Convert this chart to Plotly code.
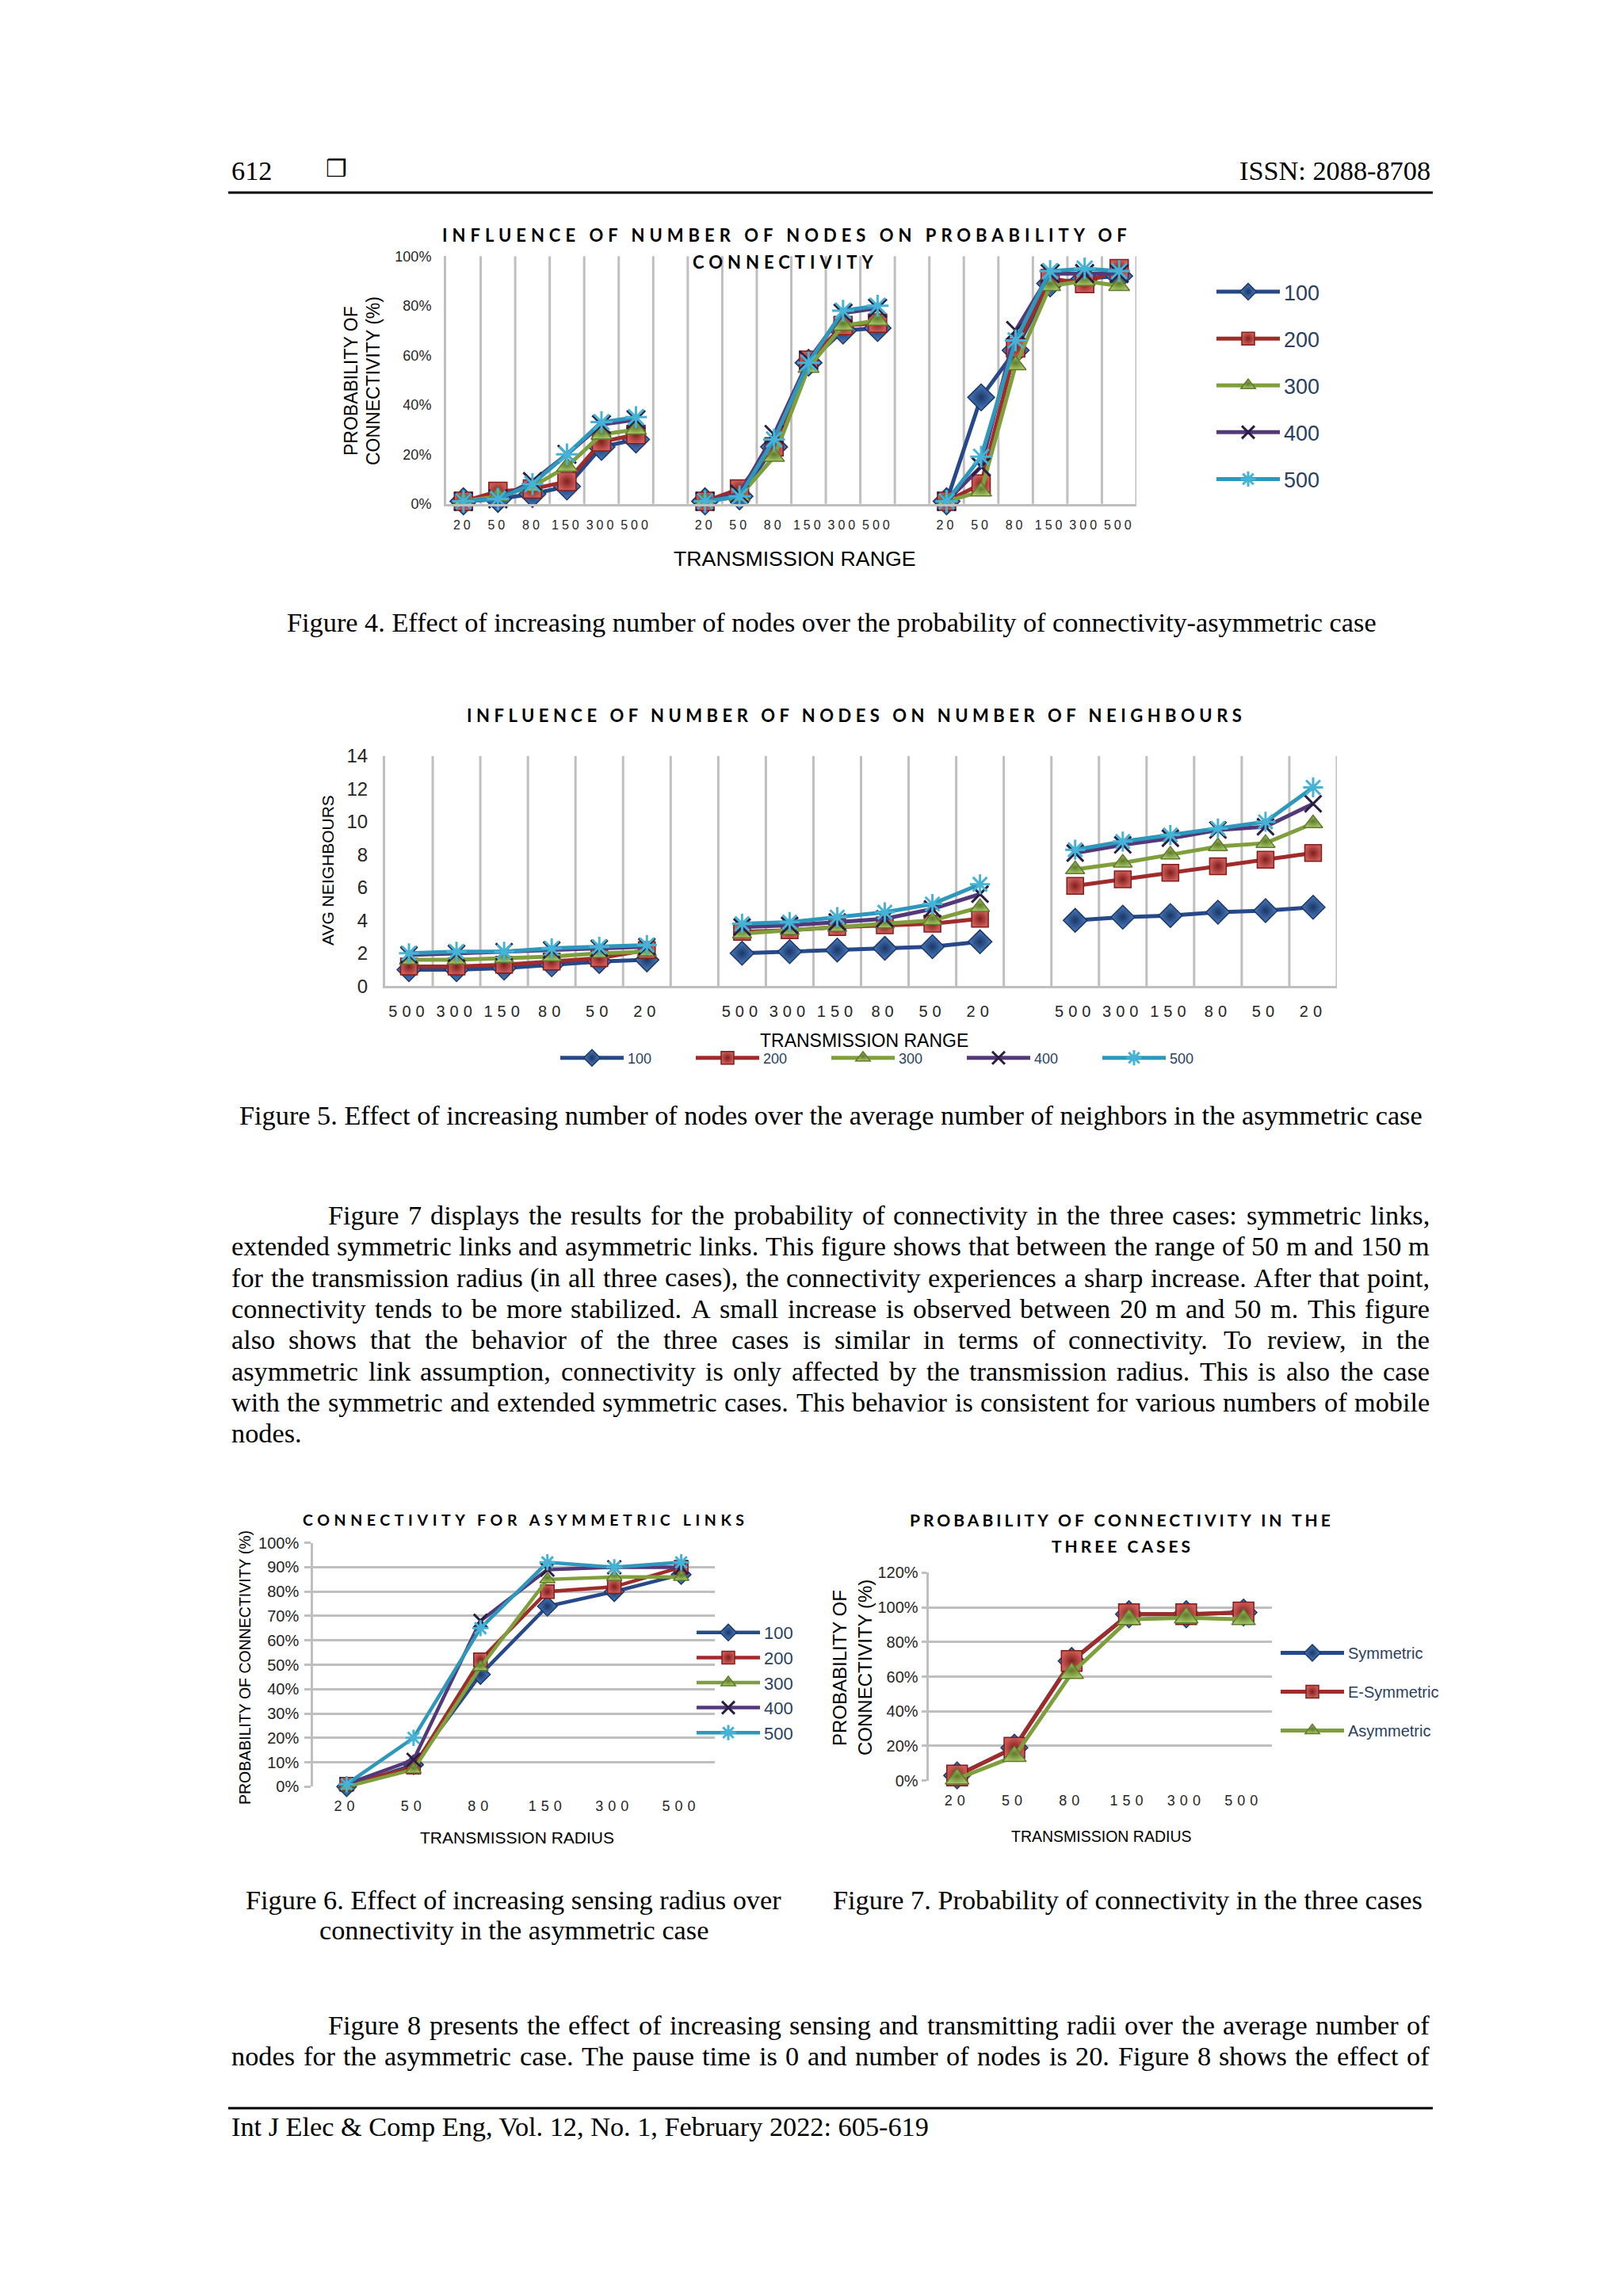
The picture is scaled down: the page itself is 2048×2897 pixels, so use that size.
import plotly.graph_objects as go

# ---------------------------------------------------------------- data
SERIES = ["100", "200", "300", "400", "500"]

F4_RANGES = ["20", "50", "80", "150", "300", "500"]
F4_100 = [0.01, 0.02, 0.04, 0.07, 0.23, 0.26, 0.01, 0.03, 0.23, 0.57, 0.70, 0.71, 0.01, 0.43, 0.62, 0.89, 0.91, 0.92]
F4_200 = [0.01, 0.05, 0.06, 0.09, 0.25, 0.28, 0.01, 0.06, 0.23, 0.58, 0.72, 0.73, 0.01, 0.08, 0.63, 0.91, 0.89, 0.95]
F4_300 = [0.01, 0.03, 0.07, 0.15, 0.28, 0.30, 0.01, 0.03, 0.19, 0.55, 0.72, 0.74, 0.01, 0.05, 0.56, 0.88, 0.90, 0.88]
F4_400 = [0.01, 0.02, 0.09, 0.20, 0.32, 0.34, 0.01, 0.04, 0.28, 0.58, 0.77, 0.79, 0.01, 0.15, 0.70, 0.93, 0.93, 0.93]
F4_500 = [0.01, 0.02, 0.08, 0.20, 0.33, 0.35, 0.01, 0.03, 0.26, 0.57, 0.78, 0.80, 0.01, 0.19, 0.66, 0.94, 0.95, 0.94]

F5_RANGES = ["500", "300", "150", "80", "50", "20"]
F5_100 = [1.0, 1.0, 1.1, 1.3, 1.5, 1.6, 2.0, 2.1, 2.2, 2.3, 2.4, 2.7, 4.0, 4.2, 4.3, 4.5, 4.6, 4.8]
F5_200 = [1.2, 1.2, 1.3, 1.5, 1.7, 2.2, 3.3, 3.4, 3.6, 3.7, 3.8, 4.1, 6.1, 6.5, 6.9, 7.3, 7.7, 8.1]
F5_300 = [1.6, 1.6, 1.7, 1.8, 2.0, 2.1, 3.2, 3.4, 3.6, 3.8, 4.0, 4.8, 7.1, 7.5, 8.0, 8.5, 8.7, 9.9]
F5_400 = [1.9, 2.0, 2.1, 2.2, 2.3, 2.4, 3.6, 3.7, 3.9, 4.1, 4.7, 5.6, 8.1, 8.6, 9.0, 9.5, 9.7, 11.1]
F5_500 = [2.0, 2.1, 2.1, 2.3, 2.4, 2.5, 3.8, 3.9, 4.2, 4.5, 5.0, 6.2, 8.3, 8.8, 9.2, 9.6, 10.0, 12.1]

F6_RADII = ["20", "50", "80", "150", "300", "500"]
F6_100 = [0.00, 0.09, 0.46, 0.74, 0.80, 0.87]
F6_200 = [0.01, 0.08, 0.52, 0.80, 0.82, 0.90]
F6_300 = [0.00, 0.07, 0.49, 0.85, 0.86, 0.86]
F6_400 = [0.01, 0.11, 0.68, 0.89, 0.90, 0.90]
F6_500 = [0.01, 0.20, 0.65, 0.92, 0.90, 0.92]

F7_RADII = ["20", "50", "80", "150", "300", "500"]
F7_CASES = ["Symmetric", "E-Symmetric", "Asymmetric"]
F7_SYM = [0.03, 0.19, 0.69, 0.96, 0.96, 0.97]
F7_ESYM = [0.03, 0.19, 0.69, 0.96, 0.96, 0.97]
F7_ASYM = [0.01, 0.14, 0.62, 0.93, 0.94, 0.93]

HEADER_LEFT = "612"
HEADER_RIGHT = "ISSN: 2088-8708"
FOOTER = "Int J Elec &amp; Comp Eng, Vol. 12, No. 1, February 2022: 605-619"
CAP4 = "Figure 4. Effect of increasing number of nodes over the probability of connectivity-asymmetric case"
CAP5 = "Figure 5. Effect of increasing number of nodes over the average number of neighbors in the asymmetric case"
CAP6 = ["Figure 6. Effect of increasing sensing radius over", "connectivity in the asymmetric case"]
CAP7 = "Figure 7. Probability of connectivity in the three cases"
PARA1 = [
    "Figure 7 displays the results for the probability of connectivity in the three cases: symmetric links,",
    "extended symmetric links and asymmetric links. This figure shows that between the range of 50 m and 150 m",
    "for the transmission radius (in all three cases), the connectivity experiences a sharp increase. After that point,",
    "connectivity tends to be more stabilized. A small increase is observed between 20 m and 50 m. This figure",
    "also shows that the behavior of the three cases is similar in terms of connectivity. To review, in the",
    "asymmetric link assumption, connectivity is only affected by the transmission radius. This is also the case",
    "with the symmetric and extended symmetric cases. This behavior is consistent for various numbers of mobile",
    "nodes.",
]
PARA2 = [
    "Figure 8 presents the effect of increasing sensing and transmitting radii over the average number of",
    "nodes for the asymmetric case. The pause time is 0 and number of nodes is 20. Figure 8 shows the effect of",
]

# ---------------------------------------------------------------- page geometry
PAGE_W, PAGE_H = 2048, 2897
OFF = 8  # default body margin of the html page
W, H = PAGE_W - 2 * OFF, PAGE_H - 2 * OFF


def px(x):
    return (x - OFF) / W


def py(y):
    return 1 - (y - OFF) / H


SERIF = "Liberation Serif, Times New Roman, serif"
NARROW = "Liberation Sans Narrow, Arial Narrow, Liberation Sans, sans-serif"
ARIAL = "Liberation Sans, Arial, sans-serif"
TITLEF = "Lato, Liberation Sans, sans-serif"
GRID = "#BFBFBF"

SYM = ["diamond", "square", "triangle-up", "x-thin-open", "asterisk-open"]
LINE_C = ["#27498A", "#A02B2B", "#7E9F3C", "#54397A", "#2E98BC"]
FILL_C = ["#4A7DC4", "#CD5B57", "#A5C465", "#2B1E45", "#46B3D6"]
EDGE_C = ["#1C3764", "#7E1F1E", "#5F7A2B", "#2B1E45", "#46B3D6"]
F7_LINE = ["#27498A", "#A02B2B", "#7E9F3C"]
F7_FILL = ["#4A7DC4", "#CD5B57", "#A5C465"]
F7_EDGE = ["#1C3764", "#7E1F1E", "#5F7A2B"]


def spaced(t, ls):
    return f'<span style="letter-spacing:{ls}px">{t}</span>'


def grouped(vals, per=6, stride=7):
    xs, ys = [], []
    for g in range(len(vals) // per):
        for i in range(per):
            xs.append(g * stride + i + 0.5)
            ys.append(vals[g * per + i])
        xs.append(None)
        ys.append(None)
    return xs, ys


def marker(i, size):
    if SYM[i].endswith("open"):
        return dict(symbol=SYM[i], size=size, color=FILL_C[i], line=dict(width=3, color=FILL_C[i]))
    return dict(symbol=SYM[i], size=size, color=FILL_C[i], line=dict(width=1.5, color=EDGE_C[i]),
                gradient=dict(type="radial", color=EDGE_C[i]))


fig = go.Figure()

# ---------------------------------------------------------------- Figure 4
for i, vals in enumerate([F4_100, F4_200, F4_300, F4_400, F4_500]):
    xs, ys = grouped(vals)
    fig.add_trace(go.Scatter(
        x=xs, y=ys, mode="lines+markers", name=SERIES[i], xaxis="x", yaxis="y",
        line=dict(color=LINE_C[i], width=5), marker=marker(i, 26 if i == 0 else 23),
        cliponaxis=False, legend="legend", legendgroup="f4" + SERIES[i], connectgaps=False))

# ---------------------------------------------------------------- Figure 5
for i, vals in enumerate([F5_100, F5_200, F5_300, F5_400, F5_500]):
    xs, ys = grouped(vals)
    fig.add_trace(go.Scatter(
        x=xs, y=ys, mode="lines+markers", name=SERIES[i], xaxis="x2", yaxis="y2",
        line=dict(color=LINE_C[i], width=5), marker=marker(i, 23 if i == 0 else 21),
        cliponaxis=False, legend="legend2", legendgroup="f5" + SERIES[i]))

# ---------------------------------------------------------------- Figure 6
for i, vals in enumerate([F6_100, F6_200, F6_300, F6_400, F6_500]):
    fig.add_trace(go.Scatter(
        x=[k + 0.5 for k in range(len(F6_RADII))], y=vals, mode="lines+markers", name=SERIES[i],
        xaxis="x3", yaxis="y3", line=dict(color=LINE_C[i], width=4.5),
        marker=marker(i, 19 if i == 0 else 17), cliponaxis=False,
        legend="legend3", legendgroup="f6" + SERIES[i]))

# ---------------------------------------------------------------- Figure 7
for i, vals in enumerate([F7_SYM, F7_ESYM, F7_ASYM]):
    fig.add_trace(go.Scatter(
        x=[k + 0.5 for k in range(len(F7_RADII))], y=vals, mode="lines+markers", name=F7_CASES[i],
        xaxis="x4", yaxis="y4", line=dict(color=F7_LINE[i], width=5),
        marker=dict(symbol=SYM[i], size=26, color=F7_FILL[i], line=dict(width=1.5, color=F7_EDGE[i]),
                    gradient=dict(type="radial", color=F7_EDGE[i])),
        cliponaxis=False, legend="legend4", legendgroup="f7" + F7_CASES[i]))


# ---------------------------------------------------------------- axes
def xdom(a, b):
    return [px(a), px(b)]


def ydom(top, bottom):
    return [py(bottom), py(top)]


tick_col = "#262626"
lay = dict(
    width=W, height=H, margin=dict(l=0, r=0, t=0, b=0, pad=0, autoexpand=False),
    paper_bgcolor="white", plot_bgcolor="white", showlegend=True,
    # Figure 4
    xaxis=dict(domain=xdom(563, 1434), range=[0, 20], anchor="y", tickangle=0, automargin=False,
               tickmode="array", tickvals=[g * 7 + i + 0.5 for g in range(3) for i in range(6)],
               ticktext=[spaced(t, 4) for g in range(3) for t in F4_RANGES],
               tickfont=dict(family=NARROW, size=16, color=tick_col), ticks="", ticklabelstandoff=10,
               showgrid=False, zeroline=False, showline=True, linecolor=GRID, linewidth=3),
    yaxis=dict(domain=ydom(323.3, 635.7), range=[0, 1], anchor="x", dtick=0.2, tickformat=".0%",
               automargin=False,
               tickfont=dict(family=NARROW, size=18, color=tick_col), ticks="", ticklabelstandoff=12,
               showgrid=False, zeroline=False, showline=True, linecolor=GRID, linewidth=3),
    # Figure 5
    xaxis2=dict(domain=xdom(486, 1687), range=[0, 20], anchor="y2", tickangle=0, automargin=False,
                tickmode="array", tickvals=[g * 7 + i + 0.5 for g in range(3) for i in range(6)],
                ticktext=[spaced(t, 6) for g in range(3) for t in F5_RANGES],
                tickfont=dict(family=NARROW, size=20, color=tick_col), ticks="", ticklabelstandoff=12,
                showgrid=False, zeroline=False, showline=True, linecolor=GRID, linewidth=3),
    yaxis2=dict(domain=ydom(954, 1244.3), range=[0, 14], anchor="x2", dtick=2, automargin=False,
                tickfont=dict(family=NARROW, size=24, color=tick_col), ticks="", ticklabelstandoff=14,
                showgrid=False, zeroline=False, showline=True, linecolor=GRID, linewidth=3),
    # Figure 6
    xaxis3=dict(domain=xdom(395.2, 901.8), range=[0, 6], anchor="y3", tickangle=0, automargin=False,
                tickmode="array", tickvals=[k + 0.5 for k in range(6)],
                ticktext=[spaced(t, 6) for t in F6_RADII],
                tickfont=dict(family=NARROW, size=18, color=tick_col), ticks="", ticklabelstandoff=12,
                showgrid=False, zeroline=False, showline=False),
    yaxis3=dict(domain=ydom(1946.7, 2254.3), range=[0, 1], anchor="x3", dtick=0.1, tickformat=".0%",
                automargin=False,
                tickfont=dict(family=NARROW, size=20, color=tick_col), ticks="outside", ticklen=8,
                tickcolor=GRID, tickwidth=3, ticklabelstandoff=3,
                showgrid=True, gridcolor=GRID, gridwidth=3, zeroline=False,
                showline=True, linecolor=GRID, linewidth=3),
    # Figure 7
    xaxis4=dict(domain=xdom(1171.6, 1605.3), range=[0, 6], anchor="y4", tickangle=0, automargin=False,
                tickmode="array", tickvals=[k + 0.5 for k in range(6)],
                ticktext=[spaced(t, 6) for t in F7_RADII],
                tickfont=dict(family=NARROW, size=18, color=tick_col), ticks="", ticklabelstandoff=12,
                showgrid=False, zeroline=False, showline=False),
    yaxis4=dict(domain=ydom(1984.3, 2246.7), range=[0, 1.2], anchor="x4", dtick=0.2, tickformat=".0%",
                automargin=False,
                tickfont=dict(family=NARROW, size=20, color=tick_col), ticks="outside", ticklen=6,
                tickcolor=GRID, tickwidth=3, ticklabelstandoff=0,
                showgrid=True, gridcolor=GRID, gridwidth=3, zeroline=False,
                showline=True, linecolor=GRID, linewidth=3),
    legend=dict(x=px(1530), y=py(344), xanchor="left", yanchor="top", font=dict(family=NARROW, size=27),
                tracegroupgap=21, itemwidth=80, bgcolor="rgba(0,0,0,0)"),
    legend2=dict(orientation="h", x=px(702), y=py(1335), xanchor="left", yanchor="middle",
                 font=dict(family=NARROW, size=18), entrywidth=76, entrywidthmode="pixels",
                 itemwidth=80, bgcolor="rgba(0,0,0,0)"),
    legend3=dict(x=px(874), y=py(2039), xanchor="left", yanchor="top", font=dict(family=NARROW, size=22),
                 tracegroupgap=0, itemwidth=80, bgcolor="rgba(0,0,0,0)"),
    legend4=dict(x=px(1611), y=py(2066), xanchor="left", yanchor="top", font=dict(family=NARROW, size=20),
                 tracegroupgap=20, itemwidth=80, bgcolor="rgba(0,0,0,0)"),
)
fig.update_layout(**lay)

# vertical category separators for the grouped charts (Figures 4 and 5)
shapes = []
for xr, yr in [("x", "y"), ("x2", "y2")]:
    for k in range(1, 21):
        shapes.append(dict(type="line", xref=xr, yref=yr + " domain", x0=k, x1=k, y0=0, y1=1,
                           line=dict(color=GRID, width=3), layer="below"))
# page rules
shapes.append(dict(type="line", xref="paper", yref="paper", x0=px(288), x1=px(1808), y0=py(243), y1=py(243),
                   line=dict(color="black", width=3)))
shapes.append(dict(type="line", xref="paper", yref="paper", x0=px(288), x1=px(1808), y0=py(2660), y1=py(2660),
                   line=dict(color="black", width=3)))
fig.update_layout(shapes=shapes)

# ---------------------------------------------------------------- text
anns = []


def ann(text, x, y, size, family, xanchor="center", yanchor="middle", angle=0, color="black"):
    anns.append(dict(text=text, x=px(x), y=py(y), xref="paper", yref="paper", showarrow=False,
                     font=dict(size=size, family=family, color=color), xanchor=xanchor, yanchor=yanchor,
                     textangle=angle, borderpad=0, borderwidth=0))


BODY = 34.3
ann(HEADER_LEFT, 292, 215, BODY, SERIF, xanchor="left")
ann("<b>\u2752</b>", 424, 213, 30, "DejaVu Sans")
ann(HEADER_RIGHT, 1805, 215, BODY, SERIF, xanchor="right")
ann(FOOTER, 292, 2683, BODY, SERIF, xanchor="left")

# chart titles
ann("<b>" + spaced("INFLUENCE OF NUMBER OF NODES ON PROBABILITY OF", 6) + "</b>", 993, 297, 22, TITLEF)
ann("<b>" + spaced("CONNECTIVITY", 6) + "</b>", 991, 331, 22, TITLEF)
ann("<b>" + spaced("INFLUENCE OF NUMBER OF NODES ON NUMBER OF NEIGHBOURS", 5.5) + "</b>", 1080, 903, 22, TITLEF)
ann("<b>" + spaced("CONNECTIVITY FOR ASYMMETRIC LINKS", 5.6) + "</b>", 663, 1917, 19.5, TITLEF)
ann("<b>" + spaced("PROBABILITY OF CONNECTIVITY IN THE", 4) + "</b>", 1415, 1918, 21, TITLEF)
ann("<b>" + spaced("THREE CASES", 4) + "</b>", 1416, 1950, 21, TITLEF)

# axis titles
ann("PROBABILITY OF", 443, 481, 23, ARIAL, angle=-90)
ann("CONNECTIVITY (%)", 471, 481, 23, ARIAL, angle=-90)
ann("TRANSMISSION RANGE", 1002, 705, 26.7, NARROW)
ann("AVG NEIGHBOURS", 413, 1098, 21, ARIAL, angle=-90)
ann("TRANSMISSION RANGE", 1090, 1313, 23, NARROW)
ann("PROBABILITY OF CONNECTIVITY (%)", 309, 2104, 19.5, ARIAL, angle=-90)
ann("TRANSMISSION RADIUS", 652, 2318, 21, NARROW)
ann("PROBABILITY OF", 1059, 2105, 24, ARIAL, angle=-90)
ann("CONNECTIVITY (%)", 1091, 2104, 24, ARIAL, angle=-90)
ann("TRANSMISSION RADIUS", 1390, 2317, 19.5, NARROW)

# captions
ann(CAP4, 1049, 785, BODY, SERIF)
ann(CAP5, 1048, 1407, BODY, SERIF)
ann(CAP6[0], 648, 2397, BODY, SERIF)
ann(CAP6[1], 648, 2435, BODY, SERIF)
ann(CAP7, 1423, 2397, BODY, SERIF)

# justified body text (Times metrics, 1/1000 em)
TW = {" ": 250, "!": 333, "(": 333, ")": 333, ",": 250, "-": 333, ".": 250, ":": 278, ";": 278, "&": 778,
      "A": 722, "B": 667, "C": 667, "D": 722, "E": 611, "F": 556, "G": 722, "H": 722, "I": 333, "J": 389,
      "K": 722, "L": 611, "M": 889, "N": 722, "O": 722, "P": 556, "Q": 722, "R": 667, "S": 556, "T": 611,
      "U": 722, "V": 722, "W": 944, "X": 722, "Y": 722, "Z": 611,
      "a": 444, "b": 500, "c": 444, "d": 500, "e": 444, "f": 333, "g": 500, "h": 500, "i": 278, "j": 278,
      "k": 500, "l": 278, "m": 778, "n": 500, "o": 500, "p": 500, "q": 500, "r": 333, "s": 389, "t": 278,
      "u": 500, "v": 500, "w": 722, "x": 500, "y": 500, "z": 444}


def tw(s, size):
    return sum(TW.get(c, 500) for c in s) * size / 1000.0


def justified(lines, y0, lh, left, indent, right, last_justified):
    for n, line in enumerate(lines):
        x_left = left + (indent if n == 0 else 0)
        y = y0 + n * lh
        words = line.split(" ")
        is_last = (n == len(lines) - 1) and not last_justified
        if is_last or len(words) == 1:
            ann(line, x_left, y, BODY, SERIF, xanchor="left")
            continue
        widths = [tw(w, BODY) for w in words]
        gap = (right - x_left - sum(widths)) / (len(words) - 1)
        x = x_left
        for w, wd in zip(words, widths):
            ann(w, x, y, BODY, SERIF, xanchor="left")
            x += wd + gap


justified(PARA1, 1533, 39.3, 292, 122, 1804, False)
justified(PARA2, 2555, 38.5, 292, 122, 1804, True)

fig.update_layout(annotations=anns)
fig.write_html("out.html")
